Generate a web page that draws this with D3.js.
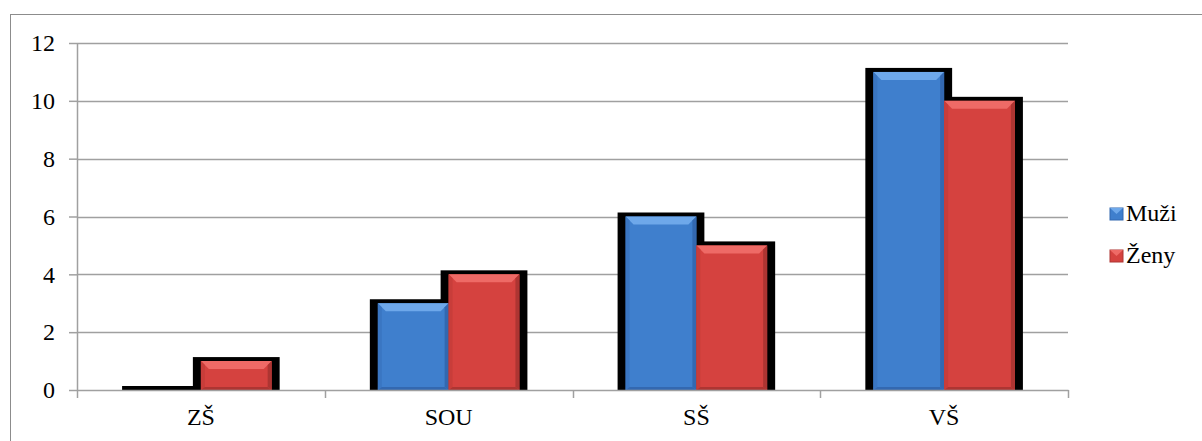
<!DOCTYPE html>
<html>
<head>
<meta charset="utf-8">
<script src="https://cdn.jsdelivr.net/npm/d3@7"></script>
<style>
  body { margin: 0; background: #fff; }
</style>
</head>
<body>
<div class="canvas"></div>
<script>
const categories = ['ZŠ', 'SOU', 'SŠ', 'VŠ'];
const seriesNames = ['Muži', 'Ženy'];
const muzi = [0, 3, 6, 11];
const zeny = [1, 4, 5, 10];
const yTicks = [0, 2, 4, 6, 8, 10, 12];

const svgWidth = 1202;
const svgHeight = 441;
const margin = { top: 43, right: 134, bottom: 51, left: 77 };
const graphWidth = svgWidth - margin.left - margin.right;
const graphHeight = svgHeight - margin.top - margin.bottom;
const fontFamily = 'Times New Roman';
const fontSize = 24;

const colors = {
    'Muži': { main: '#3f7fcd', light: '#6ea8ea', dark: '#3368b0', side: '#3a76c2' },
    'Ženy': { main: '#d5423f', light: '#ee6a66', dark: '#ad3532', side: '#c83d3a' }
};

const svg = d3.select('.canvas')
    .append('svg')
        .attr('width', svgWidth)
        .attr('height', svgHeight)
        .style('font-family', fontFamily);

// outer frame
svg.append('rect')
    .attr('x', 10.5).attr('y', 14.5)
    .attr('width', svgWidth).attr('height', svgHeight)
    .attr('fill', 'none')
    .attr('stroke', '#8c8c8c');

const g = svg.append('g')
    .attr('transform', `translate(${margin.left}, ${margin.top})`);

// Scale setup:
const x0 = d3.scaleBand().domain(categories).range([0, graphWidth]);
const x1 = d3.scaleBand().domain(seriesNames).range([0, x0.bandwidth()]).paddingOuter(0.75);
const y = d3.scaleLinear().domain([0, 12]).range([graphHeight, 0]);

// gridlines
g.append('g')
    .selectAll('line')
    .data(yTicks.slice(1))
    .join('line')
        .attr('x1', 0).attr('x2', graphWidth)
        .attr('y1', d => Math.round(y(d)) + 0.5)
        .attr('y2', d => Math.round(y(d)) + 0.5)
        .attr('stroke', '#a0a0a0')
        .attr('stroke-width', 1.5);

const data = [];
categories.forEach((c, i) => {
    data.push({ cat: c, s: 'Muži', v: muzi[i] });
    data.push({ cat: c, s: 'Ženy', v: zeny[i] });
});

const bx = d => x0(d.cat) + x1(d.s);
const bw = x1.bandwidth();

// shadows
g.append('g')
    .selectAll('rect')
    .data(data)
    .join('rect')
        .attr('x', d => bx(d) - 8)
        .attr('y', d => y(d.v) - 4)
        .attr('width', bw + 16)
        .attr('height', d => graphHeight - y(d.v) + 5)
        .attr('fill', '#000');

// bars with bevel
const bevel = 8;
const bars = g.append('g')
    .selectAll('g')
    .data(data.filter(d => d.v > 0))
    .join('g');

bars.append('rect')
    .attr('x', d => bx(d))
    .attr('y', d => y(d.v))
    .attr('width', bw)
    .attr('height', d => graphHeight - y(d.v))
    .attr('fill', d => colors[d.s].main);

const poly = pts => pts.map(p => p.join(',')).join(' ');

bars.append('polygon')
    .attr('points', d => {
        const l = bx(d), r = l + bw, t = y(d.v);
        return poly([[l, t], [r, t], [r - bevel, t + bevel], [l + bevel, t + bevel]]);
    })
    .attr('fill', d => colors[d.s].light);

bars.append('polygon')
    .attr('points', d => {
        const l = bx(d), t = y(d.v), b = graphHeight;
        return poly([[l, t], [l + 4, t + 4], [l + 4, b - 3], [l, b]]);
    })
    .attr('fill', d => colors[d.s].side);

bars.append('polygon')
    .attr('points', d => {
        const r = bx(d) + bw, t = y(d.v), b = graphHeight;
        return poly([[r, t], [r - 4, t + 4], [r - 4, b - 3], [r, b]]);
    })
    .attr('fill', d => colors[d.s].dark);

bars.append('polygon')
    .attr('points', d => {
        const l = bx(d), r = l + bw, b = graphHeight;
        return poly([[l, b], [l + 4, b - 3], [r - 4, b - 3], [r, b]]);
    })
    .attr('fill', d => colors[d.s].dark);

// Axis group setup:
const yAxis = d3.axisLeft(y).tickValues(yTicks).tickSize(8).tickPadding(14);
const yAxisGroup = g.append('g').attr('class', 'y-axis').call(yAxis);
yAxisGroup.attr('font-family', null).attr('font-size', null);
yAxisGroup.select('.domain').attr('stroke', '#a0a0a0').attr('stroke-width', 1.5).attr('d', `M0.5,0V${graphHeight}`);
yAxisGroup.selectAll('.tick line').attr('stroke', '#a0a0a0').attr('stroke-width', 1.5);
yAxisGroup.selectAll('.tick text')
    .style('font-family', fontFamily)
    .style('font-size', fontSize + 'px')
    .attr('fill', '#000');

const xAxis = d3.axisBottom(x0).tickSize(0).tickPadding(18);
const xAxisGroup = g.append('g')
    .attr('class', 'x-axis')
    .attr('transform', `translate(0, ${graphHeight})`)
    .call(xAxis);
xAxisGroup.attr('font-family', null).attr('font-size', null);
xAxisGroup.select('.domain').attr('stroke', '#a0a0a0').attr('stroke-width', 1.5);
xAxisGroup.selectAll('.tick text')
    .style('font-family', fontFamily)
    .style('font-size', fontSize + 'px')
    .attr('fill', '#000');

// category boundary ticks
xAxisGroup.append('g')
    .selectAll('line')
    .data(categories.map(c => x0(c)).concat([graphWidth]))
    .join('line')
        .attr('x1', d => Math.round(d) + 0.5).attr('x2', d => Math.round(d) + 0.5)
        .attr('y1', 0).attr('y2', 8)
        .attr('stroke', '#a0a0a0')
        .attr('stroke-width', 1.5);

// legend
const legend = svg.append('g')
    .selectAll('g')
    .data(seriesNames)
    .join('g')
        .attr('transform', (d, i) => `translate(1110, ${213 + i * 42})`);

legend.append('rect')
    .attr('x', 0).attr('y', -5)
    .attr('width', 13).attr('height', 12)
    .attr('fill', d => colors[d].main)
    .attr('stroke', d => colors[d].dark)
    .attr('stroke-width', 1);

legend.append('polygon')
    .attr('points', '0,-5 13,-5 6.5,1')
    .attr('fill', d => colors[d].light);

legend.append('text')
    .attr('x', 16)
    .attr('dy', '0.35em')
    .style('font-family', fontFamily)
    .style('font-size', fontSize + 'px')
    .attr('fill', '#000')
    .text(d => d);
</script>
</body>
</html>
